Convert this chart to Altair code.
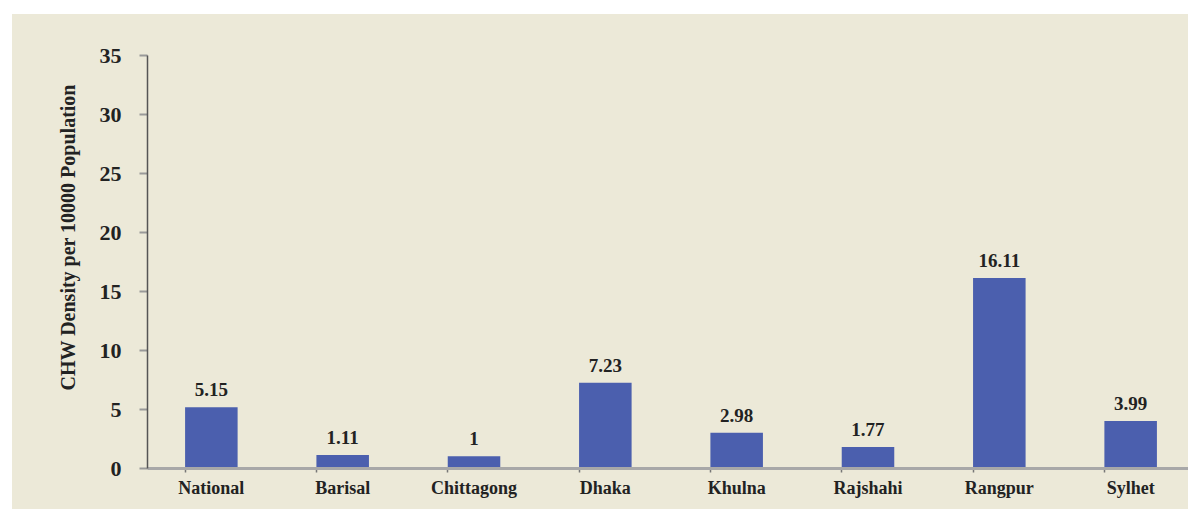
import altair as alt
import pandas as pd

regions = ["National", "Barisal", "Chittagong", "Dhaka", "Khulna", "Rajshahi", "Rangpur", "Sylhet"]
density = [5.15, 1.11, 1.0, 7.23, 2.98, 1.77, 16.11, 3.99]
value_labels = ["5.15", "1.11", "1", "7.23", "2.98", "1.77", "16.11", "3.99"]
y_ticks = [0, 5, 10, 15, 20, 25, 30, 35]

df = pd.DataFrame({"region": regions, "density": density, "label": value_labels})
bg = pd.DataFrame({"k": [0]})

FONT = "Liberation Serif"
W, H = 1041, 413

xenc = alt.X("region:N", sort=regions, title=None,
             scale=alt.Scale(range=[0, 1048], paddingInner=0.6, paddingOuter=0.29),
             axis=alt.Axis(labelAngle=0, labelFont=FONT, labelFontWeight="bold",
                           labelFontSize=18, labelColor="#222", labelPadding=7,
                           domainColor="#a8a8a8", domainWidth=3,
                           tickColor="#777", tickSize=4, tickWidth=1.5, bandPosition=0,
                           zindex=1))
yenc = alt.Y("density:Q", title="CHW Density per 10000 Population",
             scale=alt.Scale(domain=[0, 35], nice=False),
             axis=alt.Axis(values=y_ticks, grid=False, labelFont=FONT, labelFontWeight="bold",
                           labelFontSize=22, labelColor="#222", labelPadding=18,
                           domainColor="#555", domainWidth=1.5,
                           tickColor="#999", tickSize=8, tickWidth=2,
                           titleFont=FONT, titleFontWeight="bold", titleFontSize=20,
                           titleColor="#222", titlePadding=21, titleY=182, zindex=1))

backdrop = alt.Chart(bg).mark_rect(color="#ECE9D8").encode(
    x=alt.value(-135), x2=alt.value(W + 10),
    y=alt.value(-41), y2=alt.value(H + 50))

bars = alt.Chart(df).mark_bar(color="#4b5fae").encode(x=xenc, y=yenc)
texts = alt.Chart(df).mark_text(font=FONT, fontWeight="bold", fontSize=19, color="#222",
                                baseline="bottom", dy=-7).encode(
    x=alt.X("region:N", sort=regions), y="density:Q", text="label:N")

chart = alt.layer(backdrop, bars, texts).properties(
    width=W, height=H, background="white",
    padding={"left": 147, "top": 55, "right": 0, "bottom": 41},
    autosize=alt.AutoSizeParams(type="none"),
).configure_view(stroke=None)

chart.save("out.html", embed_options={"renderer": "svg", "actions": False})
